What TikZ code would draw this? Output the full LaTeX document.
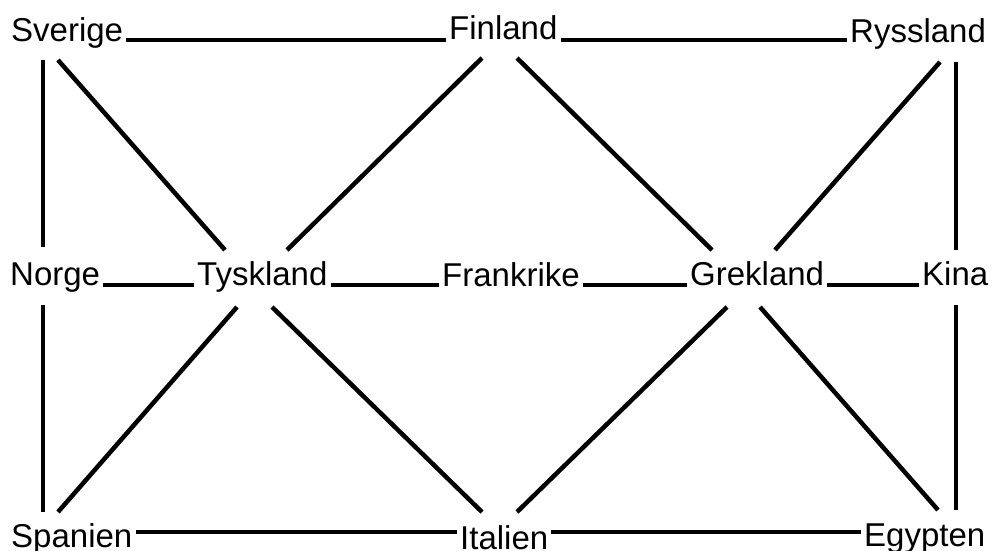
\documentclass[tikz,border=0pt]{standalone}
\usepackage{fontspec}
\setmainfont{Liberation Sans}
\begin{document}
\begin{tikzpicture}[x=1pt,y=-1pt,
  lbl/.style={inner sep=0pt,anchor=base west,font=\fontsize{33}{40}\selectfont},
  edge/.style={line width=4.5pt},
  hedge/.style={edge,shorten <=3pt,shorten >=3pt}]
\useasboundingbox (0,0) rectangle (992,550);
% nodes
\node[lbl] (Sverige)   at (11,41)  {Sverige};
\node[lbl] (Finland)   at (449,39) {Finland};
\node[lbl] (Ryssland)  at (850,42) {Ryssland};
\node[lbl] (Norge)     at (10,285) {Norge};
\node[lbl] (Tyskland)  at (197,285) {Tyskland};
\node[lbl] (Frankrike) at (442,286) {Frankrike};
\node[lbl] (Grekland)  at (690,285) {Grekland};
\node[lbl] (Kina)      at (922,285) {Kina};
\node[lbl] (Spanien)   at (11,547) {Spanien};
\node[lbl] (Italien)   at (460,549) {Italien};
\node[lbl] (Egypten)   at (864,546) {Egypten};
% horizontal connectors
\draw[hedge] ([shift={(0,-1)}]Sverige.base east) -- ([shift={(0,-1)}]Sverige.base east -| Finland.base west);
\draw[hedge] ([shift={(0,1)}]Finland.base east) -- ([shift={(0,1)}]Finland.base east -| Ryssland.base west);
\draw[hedge] (Norge.base east) -- (Norge.base east -| Tyskland.base west);
\draw[hedge] (Tyskland.base east) -- (Tyskland.base east -| Frankrike.base west);
\draw[hedge] ([shift={(0,-1)}]Frankrike.base east) -- ([shift={(0,-1)}]Frankrike.base east -| Grekland.base west);
\draw[hedge] (Grekland.base east) -- (Grekland.base east -| Kina.base west);
\draw[hedge] ([shift={(0,-15)}]Spanien.base east) -- ([shift={(0,-15)}]Spanien.base east -| Italien.base west);
\draw[hedge] ([shift={(0,-17)}]Italien.base east) -- ([shift={(0,-17)}]Italien.base east -| Egypten.base west);
% vertical connectors
\draw[edge] ([shift={(32,19)}]Sverige.base west) -- ([shift={(33,-38)}]Norge.base west);
\draw[edge] ([shift={(33,20)}]Norge.base west) -- ([shift={(32,-35)}]Spanien.base west);
\draw[edge] ([shift={(106,20)}]Ryssland.base west) -- ([shift={(34,-35)}]Kina.base west);
\draw[edge] ([shift={(34,20)}]Kina.base west) -- ([shift={(92,-36)}]Egypten.base west);
% diagonal connectors
\draw[edge] ([shift={(47,19)}]Sverige.base west) -- ([shift={(28,-35)}]Tyskland.base west);
\draw[edge] ([shift={(33,19)}]Finland.base west) -- ([shift={(90,-35)}]Tyskland.base west);
\draw[edge] ([shift={(68,19)}]Finland.base west) -- ([shift={(22,-35)}]Grekland.base west);
\draw[edge] ([shift={(90,20)}]Ryssland.base west) -- ([shift={(85,-35)}]Grekland.base west);
\draw[edge] ([shift={(40,22)}]Tyskland.base west) -- ([shift={(47,-35)}]Spanien.base west);
\draw[edge] ([shift={(75,22)}]Tyskland.base west) -- ([shift={(22,-37)}]Italien.base west);
\draw[edge] ([shift={(37,22)}]Grekland.base west) -- ([shift={(57,-37)}]Italien.base west);
\draw[edge] ([shift={(70,22)}]Grekland.base west) -- ([shift={(74,-36)}]Egypten.base west);
\end{tikzpicture}
\end{document}
